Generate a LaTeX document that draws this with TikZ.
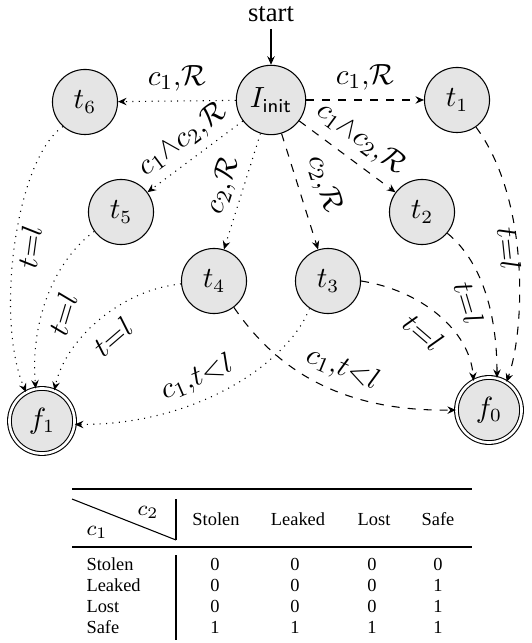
\documentclass[tikz,border=0pt]{standalone}
\usepackage{fontspec}
\newfontfamily\timesf{Liberation Serif}
\usetikzlibrary{arrows.meta}
\begin{document}
\begin{tikzpicture}[x=0.375pt,y=0.375pt,
  state/.style={circle,draw,line width=0.4pt,fill=black!10,minimum size=24.4pt,inner sep=0pt,font=\fontsize{10.5}{12}\selectfont},
  accept/.style={state,double,double distance=1pt},
  tip/.style={-{Stealth[length=3.2pt,width=2.8pt,inset=1.1pt]},line width=0.4pt},
  dsh/.style={tip,dashed},
  dot/.style={tip,dotted},
  lbl/.style={font=\fontsize{11}{13}\selectfont,inner sep=1.5pt},
  tbl/.style={font=\timesf\fontsize{6.9}{8}\selectfont,inner sep=0pt,anchor=base},
  rule/.style={line width=0.4pt}
]
\useasboundingbox (0,0) rectangle (531,-643);

% states
\node[state,minimum size=26pt] (I) at (271,-100) {$I_{\mathsf{init}}$};
\node[state] (t6) at (85,-102) {$t_6$};
\node[state] (t1) at (457,-100) {$t_1$};
\node[state] (t5) at (121,-212) {$t_5$};
\node[state] (t2) at (422,-212) {$t_2$};
\node[state] (t4) at (214,-281) {$t_4$};
\node[state] (t3) at (328,-281) {$t_3$};
\node[accept] (f1) at (42,-421) {$f_1$};
\node[accept] (f0) at (489,-410) {$f_0$};
\node[font=\timesf\fontsize{10}{12}\selectfont,inner sep=2.5pt] (start) at (271,-14) {start};

\draw[tip] (start) -- (I);

% edges from I
\draw[dot] (I) -- node[lbl,above=2pt] (l1) {$c_1{,}\mathcal{R}$} (t6);
\draw[dsh] (I) -- node[lbl,above=2pt] (l2) {$c_1{,}\mathcal{R}$} (t1);
\draw[dot] (I) -- node[lbl,sloped,above=1.5pt] (l3) {$c_1{\wedge}c_2{,}\mathcal{R}$} (t5);
\draw[dsh] (I) -- node[lbl,sloped,above=2pt] (l4) {$c_1{\wedge}c_2{,}\mathcal{R}$} (t2);
\draw[dot] (I) -- node[lbl,sloped,above=1pt] (l5) {$c_2{,}\mathcal{R}$} (t4);
\draw[dsh] (I) -- node[lbl,sloped,above=3pt] (l6) {$c_2{,}\mathcal{R}$} (t3);

% edges to f1
\draw[dot] (t6.228) .. controls (15,-160) and (-5,-320) .. node[lbl,sloped,below=0pt,pos=0.5] (l7) {$t{=}l$} (f1.119);
\draw[dot] (t5.216) .. controls (55,-260) and (30,-320) .. node[lbl,sloped,below=2pt,pos=0.58] (l8) {$t{=}l$} (f1.101);
\draw[dot] (t4.185) .. controls (120,-290) and (65,-340) .. node[lbl,sloped,below=2.5pt,pos=0.5] (l9) {$t{=}l$} (f1.68);
\draw[dot] (t3.236) .. controls (290,-360) and (200,-425) .. node[lbl,sloped,above=2pt,pos=0.6] (l10) {$c_1{,}t{<}l$} (f1.-6);

% edges to f0
\draw[dsh] (t4.-53) .. controls (270,-360) and (330,-412) .. node[lbl,sloped,above=2pt,pos=0.6] (l11) {$c_1{,}t{<}l$} (f0.180);
\draw[dsh] (t3.east) .. controls (420,-290) and (470,-330) .. node[lbl,sloped,below=3pt,pos=0.5] (l12) {$t{=}l$} (f0.118);
\draw[dsh] (t2.-40) .. controls (480,-260) and (497,-310) .. node[lbl,sloped,below=1.5pt,pos=0.55] (l13) {$t{=}l$} (f0.76);
\draw[dsh] (t1.-55) .. controls (530,-200) and (525,-330) .. node[lbl,sloped,below=-2.5pt,pos=0.45] (l14) {$t{=}l$} (f0.58);

% table
\draw[line width=0.8pt] (72,-489) -- (472,-489);
\draw[rule] (72,-499) -- (176,-540);
\draw[rule] (176,-499) -- (176,-540);
\draw[line width=0.5pt] (72,-547) -- (472,-547);
\draw[rule] (176,-555) -- (176,-640);
\node[font=\fontsize{8}{9}\selectfont,inner sep=0pt] (hc2) at (148,-512) {$c_2$};
\node[font=\fontsize{8}{9}\selectfont,inner sep=0pt] (hc1) at (97,-532) {$c_1$};
\node[tbl] (h1) at (216,-525) {Stolen};
\node[tbl] (h2) at (298,-525) {Leaked};
\node[tbl] (h3) at (374,-525) {Lost};
\node[tbl] (h4) at (438,-525) {Safe};
\foreach \r/\lab/\a/\b/\c/\d [count=\i] in {570/Stolen/0/0/0/0, 591/Leaked/0/0/0/1, 612/Lost/0/0/0/1, 633/Safe/1/1/1/1}{
  \node[tbl,anchor=base west] (r\i) at (86,-\r) {\lab};
  \node[tbl] (v\i a) at (215,-\r) {\a};
  \node[tbl] (v\i b) at (295,-\r) {\b};
  \node[tbl] (v\i c) at (372,-\r) {\c};
  \node[tbl] (v\i d) at (438,-\r) {\d};
}
\end{tikzpicture}
\end{document}
